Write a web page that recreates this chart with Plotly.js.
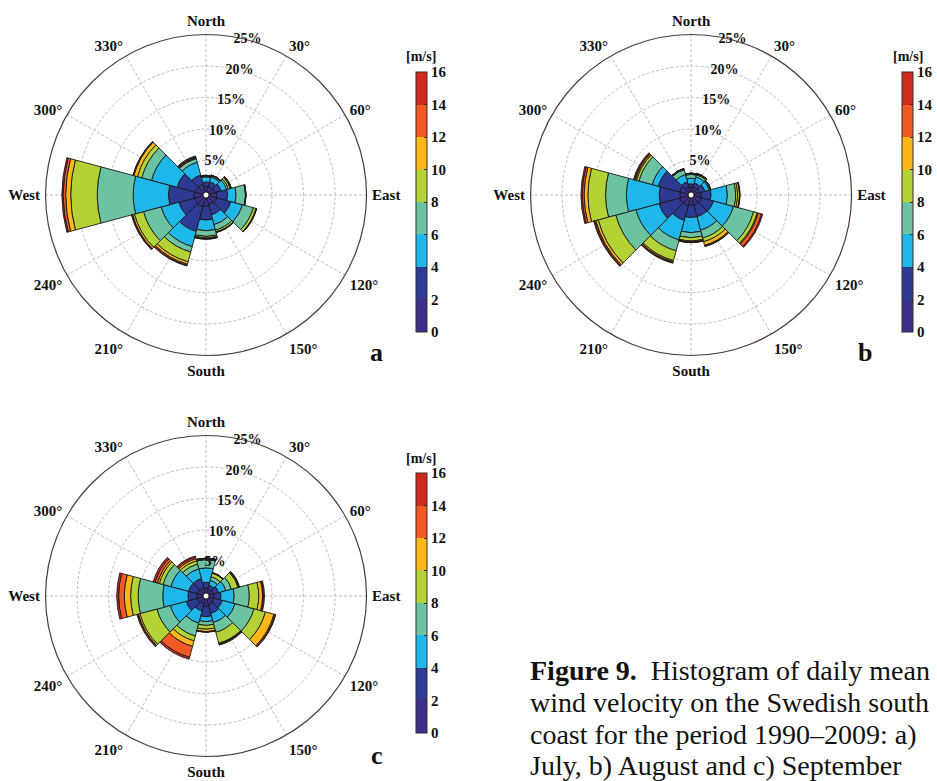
<!DOCTYPE html>
<html><head><meta charset="utf-8">
<script src="https://cdn.plot.ly/plotly-3.0.1.min.js"></script>
<style>html,body{margin:0;padding:0;background:#fff;overflow:hidden}</style>
</head><body><div id="chart" style="width:937px;height:781px"></div>
<script>
// Wind directions (sector centres, degrees clockwise from North)
const directions = [0,30,60,90,120,150,180,210,240,270,300,330];
const dirLabels = ['North','30°','60°','East','120°','150°','South','210°','240°','West','300°','330°'];
// Speed bins [m/s]
const speedBins = ['0–2','2–4','4–6','6–8','8–10','10–12','12–14','14–16'];
const binMid = [1,3,5,7,9,11,13,15];
const binColors = ['#3b2f8c','#2d3a93','#1fb6e9','#6cc3a2','#b2d236','#fbb818','#f15a24','#d12a1f'];
const radialTicks = [5,10,15,20,25];
const radialTickText = ['5%','10%','15%','20%','25%'];
const cbTicks = [0,2,4,6,8,10,12,14,16];
const cbTitle = '[m/s]';

// a) July – frequency [%] per direction for each speed bin
const jul_0_2   = [0.9,0.9,1.0,1.2,1.3,1.1,1.3,1.5,1.4,1.4,1.3,1.3];
const jul_2_4   = [0.7,0.8,1.0,1.75,2.3,1.7,2.2,4.0,2.6,4.1,3.0,1.5];
const jul_4_6   = [0.8,0.8,0.9,1.35,1.9,1.6,1.7,2.5,2.9,5.6,4.2,2.1];
const jul_6_8   = [0.15,0.2,0.3,1.5,1.8,0.9,0.9,0.9,2.9,5.7,1.6,0.6];
const jul_8_10  = [0.05,0.06,0.3,0.08,0.45,0.3,0.25,1.6,1.5,4.2,0.7,0.1];
const jul_10_12 = [0.03,0.02,0.15,0.02,0.05,0.05,0.1,0.4,0.3,0.8,0.6,0.1];
const jul_12_14 = [0.02,0.01,0.02,0,0.03,0.03,0.05,0.2,0.1,0.4,0.1,0.1];
const jul_14_16 = [0.02,0.01,0.03,0,0.02,0.02,0.05,0.1,0.1,0.2,0.05,0.15];

// b) August
const aug_0_2   = [0.8,0.8,0.9,1.1,1.2,1.2,1.2,1.3,1.4,1.3,1.4,0.9];
const aug_2_4   = [0.5,0.7,0.9,1.6,2.0,1.9,1.9,2.4,3.4,3.3,3.5,0.8];
const aug_4_6   = [0.9,1.0,0.7,2.6,3.3,2.2,2.4,3.2,3.8,5.2,1.0,1.2];
const aug_6_8   = [0.6,0.35,0.2,1.3,3.3,1.3,0.8,1.8,3.3,3.3,2.2,0.8];
const aug_8_10  = [0.15,0.15,0.05,0.3,0.6,0.6,0.5,1.6,2.9,2.8,0.4,0.1];
const aug_10_12 = [0.03,0.05,0.02,0.3,0.15,0.6,0.15,0.2,0.4,0.6,0.2,0.05];
const aug_12_14 = [0.01,0.03,0.01,0.05,0.55,0.15,0.1,0.15,0.2,0.3,0.15,0.02];
const aug_14_16 = [0.01,0.02,0.01,0.05,0.2,0.05,0.05,0.1,0.15,0.2,0.15,0.02];

// c) September
const sep_0_2   = [0.8,0.6,0.7,0.8,0.9,1.0,1.2,0.8,1.0,1.0,0.9,0.9];
const sep_2_4   = [0.9,0.7,0.9,1.1,1.3,1.4,1.6,1.2,1.8,1.4,1.5,1.5];
const sep_4_6   = [2.3,0.8,1.2,2.1,2.1,1.5,0.8,2.0,2.6,4.0,2.9,1.6];
const sep_6_8   = [1.3,0.6,0.9,2.4,3.1,1.6,0.6,2.1,2.2,3.9,1.3,0.8];
const sep_8_10  = [0.15,0.6,1.1,1.5,1.9,1.8,0.6,0.8,2.8,1.2,0.6,0.5];
const sep_10_12 = [0.05,0.05,0.1,0.6,1.4,0.1,0.4,0.9,0.25,1.0,0.3,0.35];
const sep_12_14 = [0.03,0.02,0.05,0.15,0.2,0.1,0.05,1.8,0.1,0.9,0.4,0.25];
const sep_14_16 = [0.02,0.03,0.1,0.15,0.1,0.1,0.05,0.3,0.15,0.3,0.3,0.2];

const panelLetters = ['a','b','c'];
const captionLines = [
  '<b>Figure 9.</b>&nbsp;&nbsp;Histogram of daily mean',
  'wind velocity on the Swedish south',
  'coast for the period 1990–2009: a)',
  'July, b) August and c) September'
];

const W = 937, H = 781, R = 161;
const panels = [
  {sub:'polar',  cx:206.7, cy:195, cbx:417, cby:72,  bins:[jul_0_2,jul_2_4,jul_4_6,jul_6_8,jul_8_10,jul_10_12,jul_12_14,jul_14_16], lx:378, ly:352},
  {sub:'polar2', cx:693.3, cy:195, cbx:905, cby:72,  bins:[aug_0_2,aug_2_4,aug_4_6,aug_6_8,aug_8_10,aug_10_12,aug_12_14,aug_14_16], lx:868, ly:352},
  {sub:'polar3', cx:206.7, cy:596, cbx:417, cby:473, bins:[sep_0_2,sep_2_4,sep_4_6,sep_6_8,sep_8_10,sep_10_12,sep_12_14,sep_14_16], lx:378, ly:755}
];

const serif = 'Liberation Serif, Times New Roman, serif';
const discreteScale = [];
binColors.forEach((c,i)=>{ discreteScale.push([i/8,c]); discreteScale.push([(i+1)/8,c]); });

const gridCol = '#bdbdbd', gridDash = '3px,2px';
const traces = [];
const layout = {
  width:W, height:H, margin:{l:0,r:0,t:0,b:0},
  paper_bgcolor:'white', plot_bgcolor:'white', showlegend:false,
  annotations:[]
};

panels.forEach((p,pi)=>{
  p.bins.forEach((vals,k)=>{
    const tr = {
      type:'barpolar', subplot:p.sub, r:vals, theta:directions, width:30,
      name:speedBins[k] + ' m/s',
      marker:{color:vals.map(()=>binMid[k]), cmin:0, cmax:16, colorscale:discreteScale,
              showscale:k===0, line:{color:'#1a1a1a', width:0.9}},
      hovertemplate:'%{theta}°: %{r}%<extra>'+speedBins[k]+' m/s</extra>'
    };
    if (k===0) {
      tr.marker.colorbar = {
        x:p.cbx/W, xanchor:'left', y:1-p.cby/H, yanchor:'top',
        len:260, lenmode:'pixels', thickness:11, thicknessmode:'pixels',
        xpad:0, ypad:0, outlinewidth:1, outlinecolor:'#3a2a2a',
        tickmode:'array', tickvals:cbTicks, ticks:'inside', ticklen:3, tickcolor:'#333',
        tickfont:{family:serif, size:15, weight:'bold', color:'#111'}
      };
    }
    traces.push(tr);
  });
  traces.push({
    type:'scatterpolar', subplot:p.sub, mode:'text', r:radialTicks,
    theta:radialTicks.map(()=>15), text:radialTickText, textposition:'middle center',
    textfont:{family:serif, size:14, weight:'bold', color:'#111'}, hoverinfo:'skip'
  });
  layout[p.sub] = {
    domain:{x:[(p.cx-R)/W,(p.cx+R)/W], y:[1-(p.cy+R)/H, 1-(p.cy-R)/H]},
    hole:3/R, bgcolor:'white', barmode:'stack', bargap:0,
    angularaxis:{rotation:90, direction:'clockwise', tickmode:'array', tickvals:directions,
      ticktext:dirLabels, ticks:'outside', ticklen:2, tickcolor:'rgba(0,0,0,0)',
      showline:true, linecolor:'#4d3b3c', linewidth:1.2,
      showgrid:true, gridcolor:gridCol, griddash:gridDash, gridwidth:1, layer:'below traces',
      tickfont:{family:serif, size:15, weight:'bold', color:'#111'}},
    radialaxis:{range:[0,25], tickmode:'array', tickvals:radialTicks, showticklabels:false,
      ticks:'', showline:false, showgrid:true, gridcolor:gridCol, griddash:gridDash, gridwidth:1,
      layer:'below traces', angle:75}
  };
  layout.annotations.push({text:'<b>'+panelLetters[pi]+'</b>', x:p.lx/W, y:1-p.ly/H,
    xref:'paper', yref:'paper', showarrow:false, xanchor:'center', yanchor:'middle',
    font:{family:serif, size:26, color:'#111'}});
  layout.annotations.push({text:'<b>'+cbTitle+'</b>', x:(p.cbx+5.5)/W, y:1-(p.cby-15)/H,
    xref:'paper', yref:'paper', showarrow:false, xanchor:'center', yanchor:'middle',
    font:{family:serif, size:14, color:'#111'}});
});

const capY = [670, 702, 734, 765];
captionLines.forEach((t,i)=>{
  layout.annotations.push({text:t, x:530/W, y:1-capY[i]/H, xref:'paper', yref:'paper',
    showarrow:false, xanchor:'left', yanchor:'middle',
    font:{family:serif, size:28, color:'#111'}});
});

Plotly.newPlot('chart', traces, layout, {staticPlot:true, displayModeBar:false});
</script></body></html>
